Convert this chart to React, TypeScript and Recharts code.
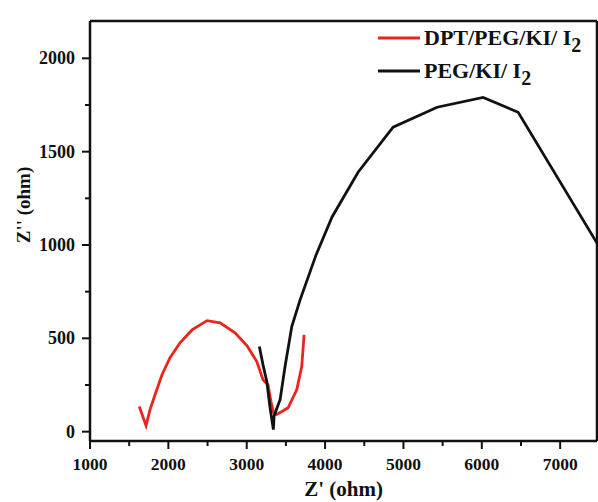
import { LineChart, Line, XAxis, YAxis, Legend, ReferenceLine } from "recharts"

// Z' (ohm) / Z'' (ohm)
const dptZre = [1629, 1715, 1766, 1830, 1919, 2021, 2149, 2302, 2494, 2660, 2851, 3004, 3128, 3208, 3272, 3310, 3345, 3380, 3450, 3528, 3639, 3702, 3732]
const dptZim = [135, 32, 118, 198, 305, 396, 476, 545, 595, 583, 529, 460, 376, 278, 251, 160, 100, 92, 108, 128, 225, 349, 519]

const pegZre = [3161, 3208, 3256, 3298, 3340, 3349, 3387, 3426, 3489, 3575, 3681, 3885, 4089, 4421, 4868, 5430, 6017, 6464, 7470]
const pegZim = [456, 358, 269, 128, 11, 82, 128, 171, 349, 563, 706, 947, 1150, 1390, 1631, 1738, 1791, 1711, 1010]

const xMajor = [1000, 2000, 3000, 4000, 5000, 6000, 7000]
const xMinor = [1500, 2500, 3500, 4500, 5500, 6500]
const yMajor = [0, 500, 1000, 1500, 2000]
const yMinor = [250, 750, 1250, 1750]

const X_MAX = 7470
const Y_MAX = 2200

const dptData = dptZre.map((x, i) => ({ x, y: dptZim[i] }))
const pegData = pegZre.map((x, i) => ({ x, y: pegZim[i] }))

const FONT = "'Liberation Serif', 'Times New Roman', serif"
const RED = "#e8261a"
const INK = "#111"

function XTick({ x, y, payload }: any) {
  const major = xMajor.includes(payload.value)
  return (
    <g>
      <line x1={x} x2={x} y1={y} y2={y + (major ? 8 : 5)} stroke={INK} strokeWidth={2} />
      {major && (
        <text x={x} y={y + 29} textAnchor="middle" fontFamily={FONT} fontWeight={700} fontSize={17.5} fill={INK}>
          {payload.value}
        </text>
      )}
    </g>
  )
}

function YTick({ x, y, payload }: any) {
  const major = yMajor.includes(payload.value)
  return (
    <g>
      <line x1={x} x2={x - (major ? 8 : 5)} y1={y} y2={y} stroke={INK} strokeWidth={2} />
      {major && (
        <text x={x - 15} y={y + 6} textAnchor="end" fontFamily={FONT} fontWeight={700} fontSize={18} fill={INK}>
          {payload.value}
        </text>
      )}
    </g>
  )
}

function YTitle() {
  return (
    <text transform="translate(30,205) rotate(-90)" textAnchor="middle" fontFamily={FONT} fontWeight={700} fontSize={19} fill={INK}>
      Z'' (ohm)
    </text>
  )
}

function LegendBox({ payload }: any) {
  return (
    <div style={{ fontFamily: FONT, fontWeight: 700, fontSize: 22, color: INK }}>
      {(payload || []).map((p: any) => (
        <div key={p.value} style={{ display: "flex", alignItems: "center", height: 33, whiteSpace: "nowrap" }}>
          <svg width={42} height={4}>
            <line x1={0} x2={42} y1={2} y2={2} stroke={p.color} strokeWidth={3} />
          </svg>
          <span style={{ marginLeft: 4 }}>
            {p.value.slice(0, -1)}
            <span style={{ fontSize: 20, position: "relative", top: 7 }}>{p.value.slice(-1)}</span>
          </span>
        </div>
      ))}
    </div>
  )
}

export default function App() {
  return (
    <div style={{ position: "absolute", left: 0, top: 0, background: "#fff" }}>
      <LineChart width={598} height={502} margin={{ top: 21, right: 1, left: 0, bottom: 0 }}>
        <XAxis
          dataKey="x"
          type="number"
          domain={[1000, X_MAX]}
          ticks={[...xMajor, ...xMinor].sort((a, b) => a - b)}
          interval={0}
          allowDataOverflow
          height={61}
          tickSize={0}
          tickMargin={0}
          tickLine={false}
          tick={<XTick />}
          axisLine={{ stroke: INK, strokeWidth: 2.5 }}
          label={{ value: "Z' (ohm)", position: "insideBottom", offset: 6, fontFamily: FONT, fontWeight: 700, fontSize: 21, fill: INK }}
        />
        <YAxis
          type="number"
          domain={[-50, Y_MAX]}
          ticks={[...yMajor, ...yMinor].sort((a, b) => a - b)}
          interval={0}
          allowDataOverflow
          width={90}
          tickSize={0}
          tickMargin={0}
          tickLine={false}
          tick={<YTick />}
          axisLine={{ stroke: INK, strokeWidth: 2.5 }}
          label={{ content: <YTitle /> }}
        />
        <ReferenceLine y={Y_MAX} stroke={INK} strokeWidth={2.5} ifOverflow="visible" />
        <ReferenceLine x={X_MAX} stroke={INK} strokeWidth={2.5} ifOverflow="visible" />
        <Legend
          layout="horizontal"
          verticalAlign="middle"
          align="center"
          content={<LegendBox />}
          wrapperStyle={{ left: 378, top: 21, width: "auto" }}
        />
        <Line
          data={dptData}
          dataKey="y"
          name="DPT/PEG/KI/ I2"
          type="linear"
          stroke={RED}
          strokeWidth={2.8}
          dot={false}
          isAnimationActive={false}
        />
        <Line
          data={pegData}
          dataKey="y"
          name="PEG/KI/ I2"
          type="linear"
          stroke={INK}
          strokeWidth={2.8}
          dot={false}
          isAnimationActive={false}
        />
      </LineChart>
    </div>
  )
}
